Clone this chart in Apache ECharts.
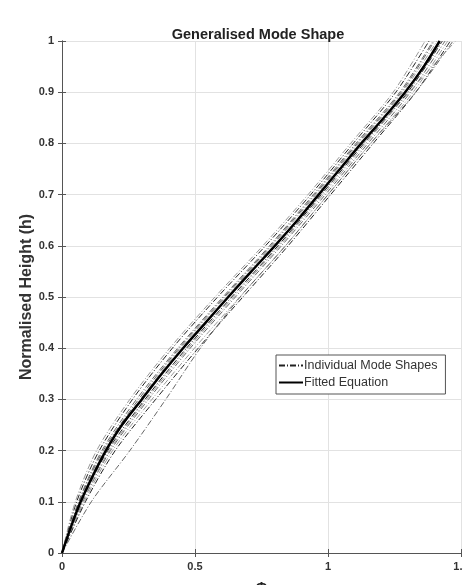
<!DOCTYPE html>
<html>
<head>
<meta charset="utf-8">
<script src="https://cdn.jsdelivr.net/npm/echarts@6/dist/echarts.min.js"></script>
<style>html,body{margin:0;padding:0;background:#fff;overflow:hidden}#c{width:463px;height:585px}</style>
</head>
<body>
<div id="c"></div>
<script>
// Normalised heights (shared by the individual curves)
var heights = [0, 0.1, 0.2, 0.3, 0.4, 0.5, 0.6, 0.7, 0.8, 0.9, 1.0];
// Fitted equation, finer sampling
var fitHeights = [0,0.05,0.1,0.15,0.2,0.25,0.3,0.35,0.4,0.45,0.5,0.55,0.6,0.65,0.7,0.75,0.8,0.85,0.9,0.95,1.0];
var fitValues = [0,0.033,0.07,0.115,0.165,0.225,0.30,0.375,0.455,0.54,0.625,0.712,0.80,0.885,0.965,1.045,1.125,1.21,1.29,1.36,1.42];
// Individual mode shapes (x value at each height)
var mode1 = [0, 0.055, 0.140, 0.265, 0.415, 0.585, 0.765, 0.935, 1.095, 1.255, 1.380];
var mode2 = [0, 0.062, 0.150, 0.280, 0.435, 0.605, 0.780, 0.945, 1.105, 1.270, 1.395];
var mode3 = [0, 0.068, 0.160, 0.295, 0.445, 0.615, 0.790, 0.955, 1.115, 1.280, 1.410];
var mode4 = [0, 0.073, 0.172, 0.312, 0.468, 0.638, 0.812, 0.975, 1.135, 1.300, 1.430];
var mode5 = [0, 0.078, 0.182, 0.325, 0.482, 0.652, 0.825, 0.990, 1.150, 1.310, 1.440];
var mode6 = [0, 0.083, 0.190, 0.338, 0.498, 0.668, 0.840, 1.000, 1.160, 1.320, 1.450];
var mode7 = [0, 0.088, 0.200, 0.352, 0.512, 0.680, 0.850, 1.010, 1.170, 1.330, 1.460];
var mode8 = [0, 0.110, 0.255, 0.390, 0.520, 0.670, 0.840, 1.000, 1.160, 1.330, 1.470];
var mode9 = [0, 0.050, 0.130, 0.255, 0.405, 0.575, 0.755, 0.925, 1.085, 1.245, 1.365];
var mode10 = [0, 0.070, 0.165, 0.300, 0.455, 0.625, 0.800, 0.965, 1.125, 1.290, 1.420];
var mode11 = [0, 0.064, 0.155, 0.288, 0.440, 0.610, 0.785, 0.950, 1.110, 1.275, 1.400];
var mode12 = [0, 0.076, 0.178, 0.318, 0.475, 0.645, 0.818, 0.982, 1.142, 1.305, 1.480];
var modes = [mode1, mode2, mode3, mode4, mode5, mode6, mode7, mode8, mode9, mode10, mode11, mode12];
var xTicks = [0, 0.5, 1, 1.5];
var yTicks = [0,0.1,0.2,0.3,0.4,0.5,0.6,0.7,0.8,0.9,1];

function pairs(xs, hs){ return xs.map(function(v,i){ return [v, hs[i]]; }); }

var series = [];
modes.forEach(function(m, i){
  var c = i % 3 === 0 ? '#222' : (i % 3 === 1 ? '#666' : '#999');
  series.push({
    name: 'Individual Mode Shapes', type: 'line', symbol: 'none', smooth: 0.3,
    data: pairs(m, heights),
    itemStyle: { color: '#777' },
    lineStyle: { color: c, width: 1, type: [6,2,1,2] },
    z: 2
  });
});
series.push({
  name: 'Fitted Equation', type: 'line', symbol: 'none', smooth: 0.3,
  data: pairs(fitValues, fitHeights),
  itemStyle: { color: '#000' },
  lineStyle: { color: '#000', width: 2.5 }, z: 5
});

var chart = echarts.init(document.getElementById('c'), null, {renderer: 'canvas'});
var axisLine = { show: true, lineStyle: { color: '#555', width: 1 } };
var font = 'Liberation Sans, Arial, sans-serif';
chart.setOption({
  animation: false,
  backgroundColor: '#fff',
  title: {
    text: 'Generalised Mode Shape', left: 253, top: 22, textAlign: 'center',
    textStyle: { fontFamily: font, fontSize: 14.5, fontWeight: 'bold', color: '#222' }
  },
  grid: { left: 62, right: 2, top: 41, bottom: 32, containLabel: false, outerBoundsMode: 'none' },
  legend: {
    orient: 'vertical', left: 276, top: 355, padding: [4, 8, 5, 2], itemGap: 4,
    itemWidth: 24, itemHeight: 14,
    backgroundColor: '#fff', borderColor: '#555', borderWidth: 1,
    itemStyle: { opacity: 0 },
    textStyle: { fontFamily: font, fontSize: 12.5, color: '#333', padding: [0,0,0,-4] },
    data: ['Individual Mode Shapes', 'Fitted Equation']
  },
  xAxis: [{
    type: 'value', min: 0, max: 1.5, interval: 0.5,
    name: 'Φ', nameLocation: 'middle', nameGap: 28, nameMoveOverlap: false,
    nameTextStyle: { fontFamily: font, fontSize: 14, fontWeight: 'bold', color: '#222' },
    axisLine: axisLine, axisTick: { show: true, inside: true, length: 4, lineStyle: { color: '#555' } },
    axisLabel: { fontFamily: font, fontSize: 11, fontWeight: 'bold', color: '#333', margin: 8, hideOverlap: false,
      formatter: function(v){ return xTicks.indexOf(v) >= 0 ? String(v) : ''; } },
    splitLine: { show: true, lineStyle: { color: '#e2e2e2', width: 1 } }
  }, {
    type: 'value', position: 'top', min: 0, max: 1.5, interval: 0.5,
    axisLine: axisLine, axisTick: { show: true, inside: true, length: 4, lineStyle: { color: '#555' } },
    axisLabel: { show: false }, splitLine: { show: false }
  }],
  yAxis: [{
    type: 'value', min: 0, max: 1, interval: 0.1,
    name: 'Normalised Height (h)', nameLocation: 'middle', nameGap: 27, nameRotate: 90, nameMoveOverlap: false,
    nameTextStyle: { fontFamily: font, fontSize: 16, fontWeight: 'bold', color: '#333' },
    axisLine: axisLine, axisTick: { show: true, inside: true, length: 4, lineStyle: { color: '#555' } },
    axisLabel: { fontFamily: font, fontSize: 11, fontWeight: 'bold', color: '#333', margin: 8,
      formatter: function(v){ var r = Math.round(v*10)/10; return yTicks.indexOf(r) >= 0 ? String(r) : ''; } },
    splitLine: { show: true, lineStyle: { color: '#e2e2e2', width: 1 } }
  }, {
    type: 'value', position: 'right', min: 0, max: 1, interval: 0.1,
    axisLine: axisLine, axisTick: { show: true, inside: true, length: 4, lineStyle: { color: '#555' } },
    axisLabel: { show: false }, splitLine: { show: false }
  }],
  series: series
});
</script>
</body>
</html>
